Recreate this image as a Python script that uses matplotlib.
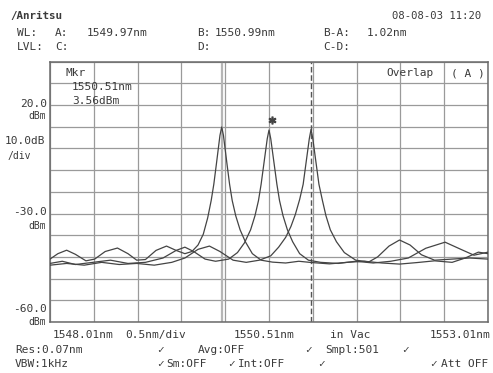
import matplotlib
matplotlib.use("Agg")
import matplotlib.pyplot as plt

x_start_nm = 1548.01
x_stop_nm = 1553.01
x_step_nm = 0.5
y_bottom_dbm = -80.0
y_top_dbm = 40.0
y_step_db = 10.0

trace1_nm = [1548.01, 1548.10, 1548.20, 1548.30, 1548.42, 1548.52, 1548.64, 1548.78,
             1548.90, 1549.00, 1549.10, 1549.22, 1549.34, 1549.45, 1549.55, 1549.63,
             1549.70, 1549.76, 1549.81, 1549.85, 1549.88, 1549.91, 1549.93, 1549.95,
             1549.97, 1549.99, 1550.01, 1550.03, 1550.06, 1550.09, 1550.13, 1550.18,
             1550.24, 1550.32, 1550.42, 1550.55, 1550.70, 1550.85, 1551.00, 1551.20,
             1551.40, 1551.60, 1551.80, 1552.00, 1552.20, 1552.40, 1552.60, 1552.75,
             1552.90, 1553.01]
trace1_dbm = [-51.0, -48.5, -46.9, -48.8, -51.8, -51.0, -47.5, -45.9,
              -48.5, -51.5, -51.2, -47.0, -45.0, -47.0, -48.5, -47.5,
              -44.5, -39.5, -32.0, -24.0, -16.5, -7.0, -0.5, 6.0,
              9.9, 6.0, -0.5, -7.0, -16.5, -24.0, -31.0, -37.5,
              -43.0, -48.5, -51.5, -52.4, -52.8, -52.0, -52.6, -53.2,
              -52.5, -52.0, -52.8, -53.3, -52.6, -51.8, -52.5, -50.5,
              -47.8, -48.5]

trace2_nm = [1548.01, 1548.15, 1548.30, 1548.50, 1548.70, 1548.90, 1549.10, 1549.30,
             1549.45, 1549.55, 1549.65, 1549.78, 1549.90, 1550.05, 1550.15, 1550.23,
             1550.30, 1550.35, 1550.39, 1550.42, 1550.45, 1550.47, 1550.49, 1550.51,
             1550.53, 1550.55, 1550.57, 1550.60, 1550.63, 1550.67, 1550.72, 1550.78,
             1550.86, 1550.96, 1551.10, 1551.30, 1551.50, 1551.70, 1551.90, 1552.10,
             1552.30, 1552.52, 1552.70, 1552.85, 1553.01]
trace2_dbm = [-53.0, -52.0, -53.5, -52.5, -51.5, -53.0, -52.5, -50.5,
              -47.0, -45.5, -47.5, -51.0, -52.0, -51.0, -48.0, -43.5,
              -37.5, -31.0, -24.0, -16.5, -7.5, -1.5, 4.5, 8.5,
              4.5, -1.5, -7.5, -16.5, -24.0, -31.0, -37.5, -43.0,
              -48.5, -51.5, -52.5, -53.0, -52.0, -52.8, -52.0, -50.5,
              -46.0, -43.2, -46.5, -49.2, -47.8]

trace3_nm = [1548.01, 1548.20, 1548.40, 1548.60, 1548.80, 1549.00, 1549.20, 1549.40,
             1549.55, 1549.70, 1549.83, 1549.95, 1550.10, 1550.25, 1550.40, 1550.53,
             1550.62, 1550.70, 1550.76, 1550.81, 1550.86, 1550.90, 1550.93, 1550.95,
             1550.97, 1550.99, 1551.01, 1551.03, 1551.05, 1551.08, 1551.12, 1551.16,
             1551.21, 1551.28, 1551.37, 1551.50, 1551.65, 1551.75, 1551.88, 1552.00,
             1552.12, 1552.25, 1552.40, 1552.60, 1552.80, 1553.01]
trace3_dbm = [-53.8, -53.0, -53.8, -52.5, -53.5, -53.0, -53.8, -52.5,
              -50.5, -46.5, -45.0, -47.5, -51.5, -52.5, -51.5, -49.5,
              -45.5, -41.0, -36.0, -30.5, -23.5, -16.5, -7.5, -1.5,
              4.5, 8.8, 4.5, -1.5, -7.5, -16.5, -24.0, -31.0,
              -37.5, -43.0, -48.0, -51.5, -52.3, -50.0, -45.0, -42.2,
              -44.5, -49.0, -51.5, -51.0, -50.5, -51.0]

marker_a_nm = 1549.97
marker_b_nm = 1550.99
mkr_nm = 1550.54
mkr_dbm = 13.0

# ---------------- figure ----------------
W, H = 493, 373
fig = plt.figure(figsize=(W / 100, H / 100), dpi=100)
fig.patch.set_facecolor("white")

L, R, T, B = 50, 488, 61.7, 322
ax = fig.add_axes([L / W, 1 - B / H, (R - L) / W, (B - T) / H])
ax.set_xlim(x_start_nm, x_stop_nm)
ax.set_ylim(y_bottom_dbm, y_top_dbm)
n_x = int(round((x_stop_nm - x_start_nm) / x_step_nm))
n_y = int(round((y_top_dbm - y_bottom_dbm) / y_step_db))
ax.set_xticks([x_start_nm + i * x_step_nm for i in range(n_x + 1)])
ax.set_yticks([y_bottom_dbm + i * y_step_db for i in range(n_y + 1)])
ax.tick_params(length=0, labelbottom=False, labelleft=False)
ax.grid(True, color="#9a9a9a", lw=0.9)
for s in ax.spines.values():
    s.set_color("#6a6a6a")
    s.set_linewidth(1.1)

ax.axvline(marker_a_nm, color="#b5b5b5", lw=1.6, zorder=2)
ax.axvline(marker_b_nm, color="#555555", lw=1.0, ls=(0, (4, 2)), zorder=2)

tc = "#444444"
ax.plot(trace1_nm, trace1_dbm, color=tc, lw=0.9, zorder=3)
ax.plot(trace2_nm, trace2_dbm, color=tc, lw=0.9, zorder=3)
ax.plot(trace3_nm, trace3_dbm, color=tc, lw=0.9, zorder=3)
ax.plot([mkr_nm], [mkr_dbm], marker=r"$\ast$", color="#444444", ms=5, zorder=4)

# ---------------- texts ----------------
FAM = ["DejaVu Sans Mono", "DejaVu Sans"]
txc = "#3a3a3a"


def t(x, y, s, size=8.0, ha="left", **kw):
    fig.text(x / W, 1 - y / H, s, fontsize=size, ha=ha, va="center",
             color=txc, family=FAM, **kw)


t(10, 16, "/Anritsu", size=7.8, weight="bold")
t(392, 16, "08-08-03 11:20", size=7.6)

t(17, 33, "WL:")
t(55, 33, "A:")
t(87, 33, "1549.97nm")
t(197, 33, "B:")
t(215, 33, "1550.99nm")
t(323, 33, "B-A:")
t(367, 33, "1.02nm")
t(17, 47, "LVL:")
t(55, 47, "C:")
t(197, 47, "D:")
t(323, 47, "C-D:")

# y-scale labels
t(47, 104, "20.0", ha="right")
t(46, 116, "dBm", ha="right", size=7)
t(5, 141, "10.0dB")
t(8, 156, "/div", size=7)
t(47, 212, "-30.0", ha="right")
t(46, 226, "dBm", ha="right", size=7)
t(47, 309, "-60.0", ha="right")
t(46, 322, "dBm", ha="right", size=7)

# inside plot header
t(66, 73, "Mkr")
t(72, 87, "1550.51nm")
t(72, 101, "3.56dBm")
t(386, 73, "Overlap")
t(451, 73, "( A )")

# x-scale labels
t(53, 335, "1548.01nm")
t(125, 335, "0.5nm/div")
t(234, 335, "1550.51nm")
t(330, 335, "in Vac")
t(490, 335, "1553.01nm", ha="right")

# settings rows
t(15, 350, "Res:0.07nm")
t(157, 350, "\u2713")
t(198, 350, "Avg:OFF")
t(305, 350, "\u2713")
t(325, 350, "Smpl:501")
t(402, 350, "\u2713")
t(15, 364, "VBW:1kHz")
t(157, 364, "\u2713")
t(166, 364, "Sm:OFF")
t(228, 364, "\u2713")
t(238, 364, "Int:OFF")
t(318, 364, "\u2713")
t(430, 364, "\u2713")
t(441, 364, "Att OFF")

fig.savefig("out.png", dpi=100, facecolor="white")
